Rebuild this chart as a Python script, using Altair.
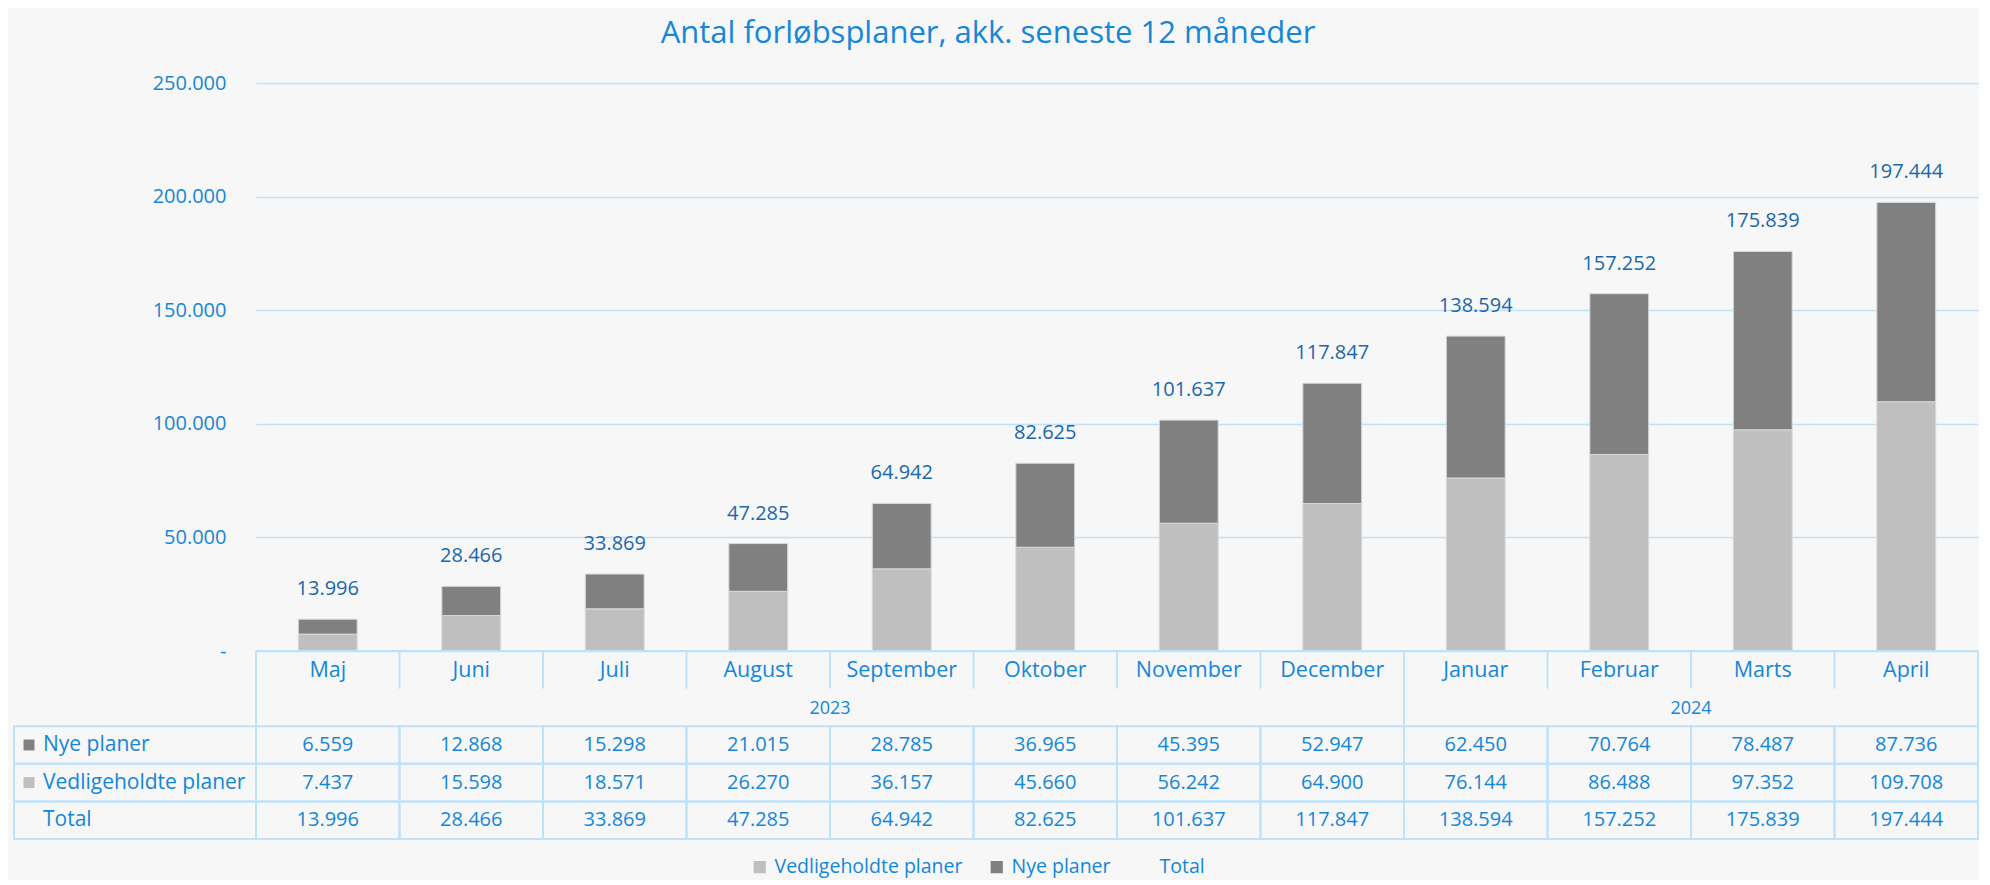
import altair as alt
import pandas as pd

months = ["Maj", "Juni", "Juli", "August", "September", "Oktober",
          "November", "December", "Januar", "Februar", "Marts", "April"]
years = ["2023"] * 8 + ["2024"] * 4
nye = [6559, 12868, 15298, 21015, 28785, 36965, 45395, 52947, 62450, 70764, 78487, 87736]
vedl = [7437, 15598, 18571, 26270, 36157, 45660, 56242, 64900, 76144, 86488, 97352, 109708]
total = [13996, 28466, 33869, 47285, 64942, 82625, 101637, 117847, 138594, 157252, 175839, 197444]
y_ticks = [0, 50000, 100000, 150000, 200000, 250000]

S_NYE = "Nye planer"
S_VED = "Vedligeholdte planer"
S_TOT = "Total"

FONT = "Open Sans"
BLUE = "#1487d8"
DARKBLUE = "#1a68aa"
GRID = "#bde2fa"
C_NYE = "#808080"
C_VED = "#bfbfbf"

W = 1722
H = 568
TH = 188


def fmt(v):
    return f"{v:,}".replace(",", ".")


# ---- bar chart data
rows = []
for i, m in enumerate(months):
    rows.append({"month": m, "series": S_VED, "value": vedl[i], "ord": 0})
    rows.append({"month": m, "series": S_NYE, "value": nye[i], "ord": 1})
bars_df = pd.DataFrame(rows)
tot_df = pd.DataFrame({"month": months, "total": total, "label": [fmt(v) for v in total]})

xband = alt.X("month:N", sort=months,
              scale=alt.Scale(paddingInner=0.59, paddingOuter=0.295), axis=None)

zero_label = "-" + "\u00a0" * 6

bars = alt.Chart(bars_df).mark_bar(stroke="#d9d9d9", strokeWidth=1).encode(
    x=xband,
    y=alt.Y("value:Q", stack="zero",
            scale=alt.Scale(domain=[0, 250000], nice=False),
            axis=alt.Axis(values=y_ticks, title=None, domain=False, ticks=False,
                          grid=True, gridColor=GRID, gridWidth=1.6,
                          labelPadding=30, labelFontSize=20, labelColor=BLUE,
                          labelFont=FONT,
                          labelExpr="datum.value == 0 ? '" + zero_label +
                                    "' : replace(datum.label, ',', '.')")),
    color=alt.Color("series:N",
                    scale=alt.Scale(domain=[S_VED, S_NYE, S_TOT],
                                    range=[C_VED, C_NYE, "transparent"]),
                    legend=alt.Legend(title=None, orient="none", direction="horizontal",
                                      legendX=494, legendY=774,
                                      symbolType="square", symbolSize=150,
                                      symbolStrokeWidth=0, labelFontSize=19.5,
                                      labelColor=BLUE, labelFont=FONT, labelLimit=500,
                                      labelOffset=5, columnPadding=24)),
    order=alt.Order("ord:Q", sort="ascending"),
)

tot_text = alt.Chart(tot_df).mark_text(dy=-30, fontSize=20, color=DARKBLUE, font=FONT).encode(
    x=xband,
    y=alt.Y("total:Q"),
    text="label:N",
)

bar_chart = alt.layer(bars, tot_text).properties(width=W, height=H)

# ---- table data
xq = alt.Scale(domain=[0, len(months)], nice=False, zero=False)
yq = alt.Scale(domain=[0, 5], nice=False, zero=False, reverse=True)

series_rows = [(S_NYE, nye, C_NYE), (S_VED, vedl, C_VED), (S_TOT, total, "")]

cells = []
for r, (name, vals, col) in enumerate(series_rows):
    for i, v in enumerate(vals):
        cells.append({"x0": i, "x1": i + 1, "y0": r + 2, "y1": r + 3,
                      "xm": i + 0.5, "ym": r + 2.5, "label": fmt(v)})
cells_df = pd.DataFrame(cells)

lab_df = pd.DataFrame([{"name": name, "y0": r + 2, "y1": r + 3, "ym": r + 2.5, "col": col}
                       for r, (name, vals, col) in enumerate(series_rows)])
sq_df = lab_df[lab_df["col"] != ""]

month_df = pd.DataFrame({"label": months, "xm": [i + 0.5 for i in range(len(months))],
                         "ym": [0.5] * len(months)})

year_names = []
for y in years:
    if y not in year_names:
        year_names.append(y)
year_df = pd.DataFrame([{"label": y,
                         "xm": (years.index(y) + len(years) - years[::-1].index(y)) / 2,
                         "ym": 1.5} for y in year_names])

vrules = []
for b in range(len(months) + 1):
    boundary = b == 0 or b == len(months) or years[b - 1] != years[b]
    vrules.append({"b": b, "y0": 0, "y1": 2 if boundary else 1})
vrule_df = pd.DataFrame(vrules)
hrule_df = pd.DataFrame({"x0": [0], "x1": [len(months)], "y": [0]})

cell_rects = alt.Chart(cells_df).mark_rect(fill="transparent", stroke=GRID, strokeWidth=2).encode(
    x=alt.X("x0:Q", scale=xq, axis=None), x2="x1:Q",
    y=alt.Y("y0:Q", scale=yq, axis=None), y2="y1:Q")
cell_text = alt.Chart(cells_df).mark_text(fontSize=20, color=BLUE, font=FONT).encode(
    x=alt.X("xm:Q", scale=xq, axis=None),
    y=alt.Y("ym:Q", scale=yq, axis=None),
    text="label:N")
lab_rects = alt.Chart(lab_df).mark_rect(fill="transparent", stroke=GRID, strokeWidth=2).encode(
    x=alt.value(-242), x2=alt.value(0),
    y=alt.Y("y0:Q", scale=yq, axis=None), y2="y1:Q")
lab_text = alt.Chart(lab_df).mark_text(fontSize=21, color=BLUE, font=FONT, align="left").encode(
    x=alt.value(-213),
    y=alt.Y("ym:Q", scale=yq, axis=None),
    text="name:N")
lab_sq = alt.Chart(sq_df).mark_square(size=120, opacity=1).encode(
    x=alt.value(-227),
    y=alt.Y("ym:Q", scale=yq, axis=None),
    color=alt.Color("col:N", scale=None))
month_text = alt.Chart(month_df).mark_text(fontSize=21.5, color=BLUE, font=FONT, dy=1).encode(
    x=alt.X("xm:Q", scale=xq, axis=None),
    y=alt.Y("ym:Q", scale=yq, axis=None),
    text="label:N")
year_text = alt.Chart(year_df).mark_text(fontSize=18, color=BLUE, font=FONT, dy=2).encode(
    x=alt.X("xm:Q", scale=xq, axis=None),
    y=alt.Y("ym:Q", scale=yq, axis=None),
    text="label:N")
vrule = alt.Chart(vrule_df).mark_rule(color=GRID, strokeWidth=2).encode(
    x=alt.X("b:Q", scale=xq, axis=None),
    y=alt.Y("y0:Q", scale=yq, axis=None), y2="y1:Q")
hrule = alt.Chart(hrule_df).mark_rule(color=GRID, strokeWidth=2).encode(
    x=alt.X("x0:Q", scale=xq, axis=None), x2="x1:Q",
    y=alt.Y("y:Q", scale=yq, axis=None))

table = alt.layer(cell_rects, lab_rects, vrule, hrule, cell_text, lab_text, lab_sq,
                  month_text, year_text).properties(width=W, height=TH)

chart = alt.vconcat(bar_chart, table, spacing=0, bounds="flush").properties(
    title=alt.TitleParams("Antal forløbsplaner, akk. seneste 12 måneder",
                          fontSize=31, color=BLUE, font=FONT, fontWeight="normal",
                          anchor="middle", offset=23, dx=-8),
    padding={"left": 5, "top": 10, "right": 0, "bottom": 3},
    background="#f7f7f7",
).configure(font=FONT).configure_view(strokeWidth=0)

chart.save("out.html", embed_options={"renderer": "svg", "actions": False})
